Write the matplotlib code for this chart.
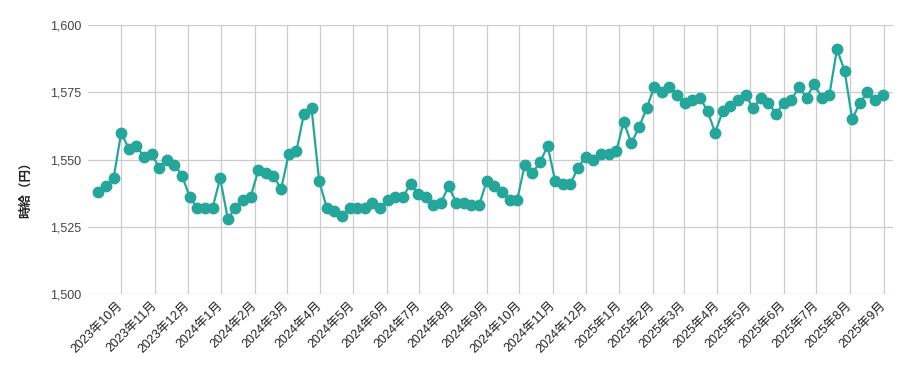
import pandas as pd
import matplotlib
matplotlib.use('Agg')
import matplotlib.pyplot as plt
from matplotlib.ticker import FuncFormatter

plt.rcParams['font.family'] = ['Liberation Sans', 'Noto Sans CJK JP', 'DejaVu Sans']

start_date = '2023-09-10'
wages = [
    1538, 1540, 1543, 1560, 1554, 1555, 1551, 1552, 1547, 1550,
    1548, 1544, 1536, 1532, 1532, 1532, 1543, 1528, 1532, 1535,
    1536, 1546, 1545, 1544, 1539, 1552, 1553, 1567, 1569, 1542,
    1532, 1531, 1529, 1532, 1532, 1532, 1534, 1532, 1535, 1536,
    1536, 1541, 1537, 1536, 1533, 1534, 1540, 1534, 1534, 1533,
    1533, 1542, 1540, 1538, 1535, 1535, 1548, 1545, 1549, 1555,
    1542, 1541, 1541, 1547, 1551, 1550, 1552, 1552, 1553, 1564,
    1556, 1562, 1569, 1577, 1575, 1577, 1574, 1571, 1572, 1573,
    1568, 1560, 1568, 1570, 1572, 1574, 1569, 1573, 1571, 1567,
    1571, 1572, 1577, 1573, 1578, 1573, 1574, 1591, 1583, 1565,
    1571, 1575, 1572, 1574,
]
dates = pd.date_range(start_date, periods=len(wages), freq='7D')
month_ticks = pd.date_range('2023-10-01', '2025-09-01', freq='MS')
y_ticks = [1500, 1525, 1550, 1575, 1600]

fig = plt.figure(figsize=(9.11, 3.71), dpi=100)
ax = fig.add_axes([88 / 911, 1 - 294 / 371, 805 / 911, 269 / 371])

ax.plot(dates, wages, color='#26a69a', linewidth=1.6, marker='o',
        markersize=7.5, zorder=3)

ax.set_ylim(1500, 1600)
ax.set_yticks(y_ticks)
ax.yaxis.set_major_formatter(FuncFormatter(lambda v, p: f'{int(v):,}'))
ax.set_xlim(dates[0] - pd.Timedelta(days=9.5), dates[-1] + pd.Timedelta(days=9.5))

ax.set_xticks(month_ticks)
ax.set_xticklabels([f'{d.year}年{d.month}月' for d in month_ticks])

ax.grid(True, color='#cccccc', linewidth=0.9)
ax.set_axisbelow(True)
for s in ax.spines.values():
    s.set_visible(False)

ax.tick_params(axis='y', length=0, pad=5, labelsize=9, labelcolor='#444444')
ax.tick_params(axis='x', length=0, pad=7, labelsize=9, labelcolor='#222222')
for lbl in ax.get_xticklabels():
    lbl.set_rotation(45)
    lbl.set_ha('right')
    lbl.set_va('center')
    lbl.set_rotation_mode('anchor')

ax.set_ylabel('時給（円）', fontsize=9, fontweight='bold', color='#222222')
ax.yaxis.set_label_coords(-0.07, 0.40)

fig.savefig('out.png', dpi=100)
plt.close(fig)
